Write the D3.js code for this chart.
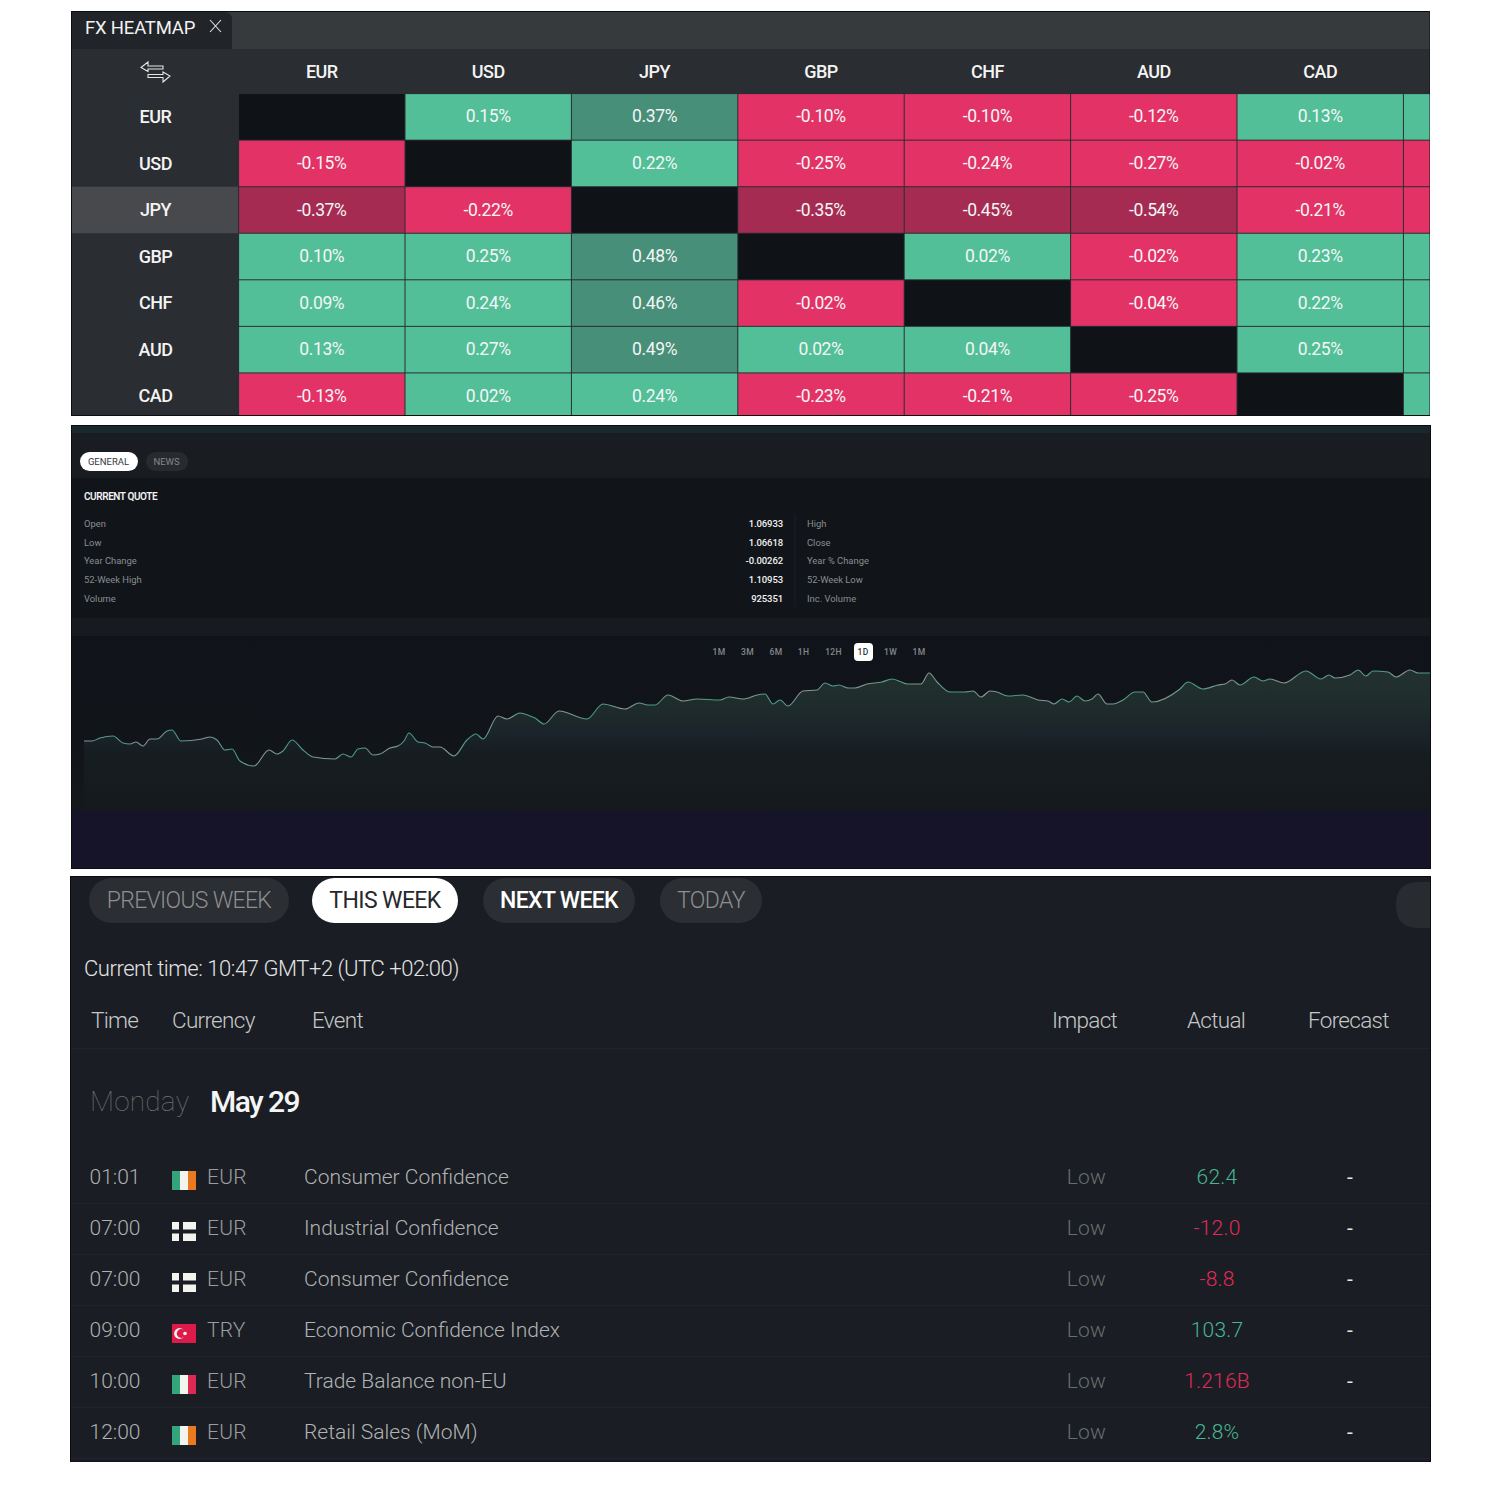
<!DOCTYPE html>
<html>
<head>
<meta charset="utf-8">
<script src="https://cdn.jsdelivr.net/npm/d3@7"></script>
<style>
  html, body { margin: 0; padding: 0; background: #fff; }
  svg { display: block; }
  text { font-family: Roboto, sans-serif; }
</style>
</head>
<body>
<svg id="chart" width="1500" height="1500"></svg>
<script>
// heatmap data
var currencies = ["EUR", "USD", "JPY", "GBP", "CHF", "AUD", "CAD"];
var heatEUR = [null, 0.15, 0.37, -0.10, -0.10, -0.12, 0.13];
var heatUSD = [-0.15, null, 0.22, -0.25, -0.24, -0.27, -0.02];
var heatJPY = [-0.37, -0.22, null, -0.35, -0.45, -0.54, -0.21];
var heatGBP = [0.10, 0.25, 0.48, null, 0.02, -0.02, 0.23];
var heatCHF = [0.09, 0.24, 0.46, -0.02, null, -0.04, 0.22];
var heatAUD = [0.13, 0.27, 0.49, 0.02, 0.04, null, 0.25];
var heatCAD = [-0.13, 0.02, 0.24, -0.23, -0.21, -0.25, null];
var heatRows = [heatEUR, heatUSD, heatJPY, heatGBP, heatCHF, heatAUD, heatCAD];
// the eighth column is cut off by the panel, only its sign can be seen
var cutColumnSigns = [1, -1, -1, 1, 1, 1, 1];

// quote table
var quoteLeftLabels = ["Open", "Low", "Year Change", "52-Week High", "Volume"];
var quoteValues = ["1.06933", "1.06618", "-0.00262", "1.10953", "925351"];
var quoteRightLabels = ["High", "Close", "Year % Change", "52-Week Low", "Inc. Volume"];
var rangeLabels = ["1M", "3M", "6M", "1H", "12H", "1D", "1W", "1M"];

// price line
var lineTimes = [0,8,16,29,39,46,52,59,66,73,83,88,97,118,126,133,141,148,156,170,185,193,199,208,219,229,251,259,267,274,281,289,296,306,314,320,325,334,341,349,356,370,383,392,399,414,423,436,446,
  451,460,475,503,519,541,555,564,571,584,599,613,636,645,659,673,681,689,696,704,719,733,741,749,755,764,771,783,798,808,824,837,845,853,866,881,889,
  897,906,913,924,939,954,964,970,978,985,993,1001,1008,1014,1023,1029,1039,1051,1059,1068,1096,1104,1119,1134,1141,1148,1156,1170,1179,1186,1200,1222,1237,1245,1251,1266,1274,1282,1289,1304,1312,1326,1334,1346];
var lineLevels = [69,69,72,74,67,66,68,64,71,71,79,80,69,71,73,70,60,61,49,44,60,56,59,70,60,53,51,56,53,61,62,55,56,62,64,69,77,68,67,63,63,54,70,76,71,94,91,97,94,
  92,86,99,91,106,101,107,105,105,115,109,111,110,113,111,115,116,106,110,104,119,120,127,124,125,122,122,126,128,131,126,126,137,128,118,118,119,
  113,119,118,114,115,110,109,106,111,108,114,109,111,116,106,106,110,118,118,108,121,128,121,125,126,130,125,133,129,131,127,139,131,135,132,135,140,134,139,138,133,140,137,137];

// calendar
var weekTabs = ["PREVIOUS WEEK", "THIS WEEK", "NEXT WEEK", "TODAY"];
var tableHeads = ["Time", "Currency", "Event", "Impact", "Actual", "Forecast"];
var eventTimes = ["01:01", "07:00", "07:00", "09:00", "10:00", "12:00"];
var eventFlags = ["ie", "fi", "fi", "tr", "it", "ie"];
var eventCurrencies = ["EUR", "EUR", "EUR", "TRY", "EUR", "EUR"];
var eventNames = ["Consumer Confidence", "Industrial Confidence", "Consumer Confidence", "Economic Confidence Index", "Trade Balance non-EU", "Retail Sales (MoM)"];
var eventImpacts = ["Low", "Low", "Low", "Low", "Low", "Low"];
var eventActuals = ["62.4", "-12.0", "-8.8", "103.7", "1.216B", "2.8%"];
var eventActualUp = [true, false, false, true, false, true];
var eventForecasts = ["-", "-", "-", "-", "-", "-"];

var svg = d3.select("#chart");
var defs = svg.append("defs");

function box(parent, x, y, w, h, fill, r) {
  return parent.append("rect").attr("x", x).attr("y", y).attr("width", w).attr("height", h)
    .attr("fill", fill).attr("rx", r || 0).attr("ry", r || 0);
}
function label(parent, x, y, str, size, fill, weight, anchor, spacing) {
  return parent.append("text").attr("x", x).attr("y", y).attr("dy", ".35em")
    .attr("font-size", size).attr("fill", fill).attr("font-weight", weight || 400)
    .attr("text-anchor", anchor || "start").attr("letter-spacing", spacing || 0).text(str);
}

// ---------- heatmap panel ----------
var heat = svg.append("g");
defs.append("clipPath").attr("id", "heatClip").append("rect")
  .attr("x", 72).attr("y", 12).attr("width", 1357.5).attr("height", 403);

box(heat, 71, 11, 1359, 405, "#0c0d0f");
var heatInner = heat.append("g").attr("clip-path", "url(#heatClip)");
box(heatInner, 72, 12, 1358, 37, "#363a3d");
box(heatInner, 72, 49, 1358, 370, "#2a2d31");
heatInner.append("path").attr("d", "M72 12H224Q232 12 232 20V49H72Z").attr("fill", "#212429");
label(heatInner, 85, 28, "FX HEATMAP", 18.5, "#f2f2f2", 400, "start", -0.2);
heatInner.append("path").attr("d", "M210 20L221 32M221 20L210 32").attr("stroke", "#e8e8e8").attr("fill", "none").attr("stroke-width", 1.1);
heatInner.append("path")
  .attr("d", "M148 62L141 67.5L148 71.5V69H163V66H148ZM163 82L170 76L163 72V74.5H148V77.5H163Z")
  .attr("fill", "none").attr("stroke", "#e6e6e6").attr("stroke-width", 1.1);

var heatX = d3.scaleBand().domain(currencies.concat(["cut"])).range([238.6, 238.6 + 8 * 166.4]);
var heatY = d3.scaleBand().domain(currencies).range([93.6, 93.6 + 7 * 46.55]);

box(heatInner, 72, heatY("JPY"), 166, heatY.bandwidth(), "#47494c");

var heatColor = d3.scaleThreshold().domain([-0.3, 0, 0.3]).range(["#a62b53", "#e33266", "#52bf98", "#478f78"]);

var cells = [];
heatRows.forEach(function(values, r) {
  values.forEach(function(v, c) {
    cells.push({ row: currencies[r], col: currencies[c], value: v });
  });
  cells.push({ row: currencies[r], col: "cut", value: cutColumnSigns[r], hidden: true });
});

var cell = heatInner.selectAll("g.cell").data(cells).enter().append("g").attr("class", "cell")
  .attr("transform", function(d) { return "translate(" + heatX(d.col) + "," + heatY(d.row) + ")"; });
cell.append("rect")
  .attr("x", 0.5).attr("y", 0.5)
  .attr("width", heatX.bandwidth() - 1)
  .attr("height", heatY.bandwidth() - 1)
  .attr("fill", function(d) { return d.value === null ? "#0f1216" : heatColor(d.hidden ? d.value * 0.1 : d.value); });
cell.filter(function(d) { return d.value !== null && !d.hidden; }).append("text")
  .attr("x", heatX.bandwidth() / 2)
  .attr("y", heatY.bandwidth() / 2 - 0.5)
  .attr("dy", ".35em")
  .attr("text-anchor", "middle")
  .attr("font-size", 17.5)
  .attr("letter-spacing", -0.4)
  .attr("fill", "#f3f6f5")
  .text(function(d) { return d.value.toFixed(2) + "%"; });

var topAxis = d3.axisTop(heatX).tickValues(currencies).tickSize(0).tickPadding(0);
var topG = heatInner.append("g").attr("transform", "translate(0,72)").call(topAxis);
var leftAxis = d3.axisLeft(heatY).tickSize(0).tickPadding(0);
var leftG = heatInner.append("g").attr("transform", "translate(155.5,0)").call(leftAxis);
[topG, leftG].forEach(function(g) {
  g.select(".domain").remove();
  g.attr("font-family", null);
  g.selectAll("text").attr("font-size", 18).attr("font-weight", 500).attr("letter-spacing", -0.5)
    .attr("fill", "#f4f4f4").attr("dy", ".35em").attr("text-anchor", "middle");
});

// ---------- quote + chart panel ----------
var quote = svg.append("g");
box(quote, 71, 425, 1360, 444, "#0b0c0e");
box(quote, 72, 426, 1358, 7, "#19282a");
box(quote, 72, 433, 1358, 45, "#191d22");
box(quote, 72, 478, 1358, 140, "#11151a");
box(quote, 72, 618, 1358, 18, "#171b20");

// the chart background lightens towards the bottom, also left of the line
var backGrad = defs.append("linearGradient").attr("id", "backGrad").attr("gradientUnits", "userSpaceOnUse")
  .attr("x1", 0).attr("x2", 0).attr("y1", 636).attr("y2", 810);
backGrad.append("stop").attr("offset", 0).attr("stop-color", "#10141a");
backGrad.append("stop").attr("offset", 0.6).attr("stop-color", "#11151a");
backGrad.append("stop").attr("offset", 1).attr("stop-color", "#15191c");
box(quote, 72, 636, 1358, 174, "url(#backGrad)");
box(quote, 72, 810, 1358, 58, "#161429");

box(quote, 80, 452, 58, 19, "#ffffff", 9.5);
label(quote, 108.5, 462, "GENERAL", 9.5, "#33363a", 400, "middle");
box(quote, 146, 452, 42, 19, "#272a2f", 9.5);
label(quote, 166.5, 462, "NEWS", 9.5, "#85888b", 400, "middle");
label(quote, 84, 496.5, "CURRENT QUOTE", 10, "#f2f2f2", 600, "start", -0.42);

var quoteY = d3.scalePoint().domain(d3.range(5)).range([523.5, 598.5]);
quoteLeftLabels.forEach(function(t, i) { label(quote, 84, quoteY(i), t, 9.4, "#8a8d90"); });
quoteValues.forEach(function(t, i) { label(quote, 783, quoteY(i), t, 9.5, "#f2f2f2", 500, "end", -0.1); });
quoteRightLabels.forEach(function(t, i) { label(quote, 807, quoteY(i), t, 9.4, "#8a8d90"); });
box(quote, 794.5, 514, 1, 93, "#1d2126");

var rangeX = [719, 747.5, 776, 803.5, 833.5, 863, 890.5, 919];
box(quote, 854, 643, 19, 18, "#ffffff", 4);
rangeLabels.forEach(function(t, i) {
  label(quote, rangeX[i], 652.5, t, 8.5, i === 5 ? "#33363a" : "#85888b", 500, "middle", 0.3);
});

// price area and line
var lineData = lineTimes.map(function(t, i) { return { t: t, v: lineLevels[i] }; });
var priceX = d3.scaleLinear().domain([0, 1346]).range([84, 1430]);
var priceY = d3.scaleLinear().domain([0, 160]).range([810, 650]);

var areaGrad = defs.append("linearGradient").attr("id", "areaGrad").attr("gradientUnits", "userSpaceOnUse")
  .attr("x1", 0).attr("x2", 0).attr("y1", 670).attr("y2", 810);
areaGrad.append("stop").attr("offset", 0).attr("stop-color", "#223130");
areaGrad.append("stop").attr("offset", 0.25).attr("stop-color", "#1f2c2c");
areaGrad.append("stop").attr("offset", 0.45).attr("stop-color", "#1a242a");
areaGrad.append("stop").attr("offset", 0.6).attr("stop-color", "#161d21");
areaGrad.append("stop").attr("offset", 1).attr("stop-color", "#15191c");

// the line flickers between teal and grey along its length
var strokeGrad = defs.append("linearGradient").attr("id", "strokeGrad").attr("gradientUnits", "userSpaceOnUse")
  .attr("x1", 84).attr("x2", 144).attr("y1", 0).attr("y2", 0).attr("spreadMethod", "repeat");
strokeGrad.append("stop").attr("offset", 0).attr("stop-color", "#8d9493");
strokeGrad.append("stop").attr("offset", 0.5).attr("stop-color", "#3f9c82");
strokeGrad.append("stop").attr("offset", 1).attr("stop-color", "#8d9493");

var area = d3.area().curve(d3.curveMonotoneX)
  .x(function(d) { return priceX(d.t); }).y0(priceY(0)).y1(function(d) { return priceY(d.v); });
var line = d3.line().curve(d3.curveMonotoneX)
  .x(function(d) { return priceX(d.t); }).y(function(d) { return priceY(d.v); });

quote.append("path").datum(lineData).attr("d", area).attr("fill", "url(#areaGrad)");
quote.append("path").datum(lineData).attr("d", line).attr("fill", "none")
  .attr("stroke", "url(#strokeGrad)").attr("stroke-width", 1.1);

// ---------- calendar panel ----------
var cal = svg.append("g");
box(cal, 70, 876, 1361, 586, "#0b0c0e");
box(cal, 71, 877, 1359, 584.5, "#1a1d23");

var tabX = [89, 312, 483, 660];
var tabW = [200, 146, 152, 102];
var tabText = ["#8d8f91", "#26282c", "#ffffff", "#8d8f91"];
var tabWeight = [300, 400, 500, 300];
var tabSpacing = [-0.7, -0.6, -0.65, -0.6];
weekTabs.forEach(function(t, i) {
  box(cal, tabX[i], 878, tabW[i], 45, i === 1 ? "#ffffff" : "#2b2e33", 22.5);
  label(cal, tabX[i] + tabW[i] / 2, 900, t, 23, tabText[i], tabWeight[i], "middle", tabSpacing[i]);
});
cal.append("path").attr("d", "M1430 882H1418Q1396 882 1396 905Q1396 928 1418 928H1430Z").attr("fill", "#282b2f");

label(cal, 84, 968.5, "Current time: 10:47 GMT+2 (UTC +02:00)", 22, "#e2e3e3", 300, "start", -0.46);

var headX = [91, 172, 312, 1052, 1187, 1308];
tableHeads.forEach(function(t, i) { label(cal, headX[i], 1020, t, 22.5, "#c6c8c8", 300, "start", -0.7); });
box(cal, 71, 1048, 1359, 1, "#20242a");

label(cal, 90, 1101.5, "Monday", 28, "#6a6d71", 100, "start", 0.2);
label(cal, 210, 1101.5, "May 29", 30, "#f5f5f5", 500, "start", -1.6);

var rowY = d3.scalePoint().domain(d3.range(6)).range([1177, 1432]);

function drawFlag(g, code) {
  box(g, 0, 0, 24, 19, code === "tr" ? "#de1a4a" : "#f4f4ee");
  if (code === "ie" || code === "it") {
    box(g, 0, 0, 8, 19, "#34a47c");
    box(g, 16, 0, 8, 19, code === "ie" ? "#e97a1f" : "#dc2a55");
  } else if (code === "fi") {
    box(g, 0, 7.5, 24, 4, "#1a1d23");
    box(g, 7, 0, 4, 19, "#1a1d23");
  } else if (code === "tr") {
    g.append("circle").attr("cx", 7.5).attr("cy", 9.5).attr("r", 5.4).attr("fill", "#f4f4ee");
    g.append("circle").attr("cx", 9.2).attr("cy", 9.5).attr("r", 4.4).attr("fill", "#de1a4a");
    g.append("circle").attr("cx", 13).attr("cy", 9.5).attr("r", 1.8).attr("fill", "#f4f4ee");
  }
}

eventTimes.forEach(function(t, i) {
  var y = rowY(i);
  label(cal, 89.5, y, t, 21, "#aeb1b1", 300, "start", 0);
  drawFlag(cal.append("g").attr("transform", "translate(172," + (y - 6) + ")"), eventFlags[i]);
  label(cal, 207, y, eventCurrencies[i], 21, "#9a9d9f", 300, "start", 0.2);
  label(cal, 304, y, eventNames[i], 21, "#b1b4b4", 300, "start", 0);
  label(cal, 1086.5, y, eventImpacts[i], 21, "#6a6d70", 300, "middle", 0.2);
  label(cal, 1217, y, eventActuals[i], 21, eventActualUp[i] ? "#45b892" : "#e02a58", 300, "middle", 0.2);
  label(cal, 1350, y, eventForecasts[i], 21, "#e4e4e4", 400, "middle");
  box(cal, 71, y + 26, 1359, 1, "#20242a");
});
</script>
</body>
</html>
